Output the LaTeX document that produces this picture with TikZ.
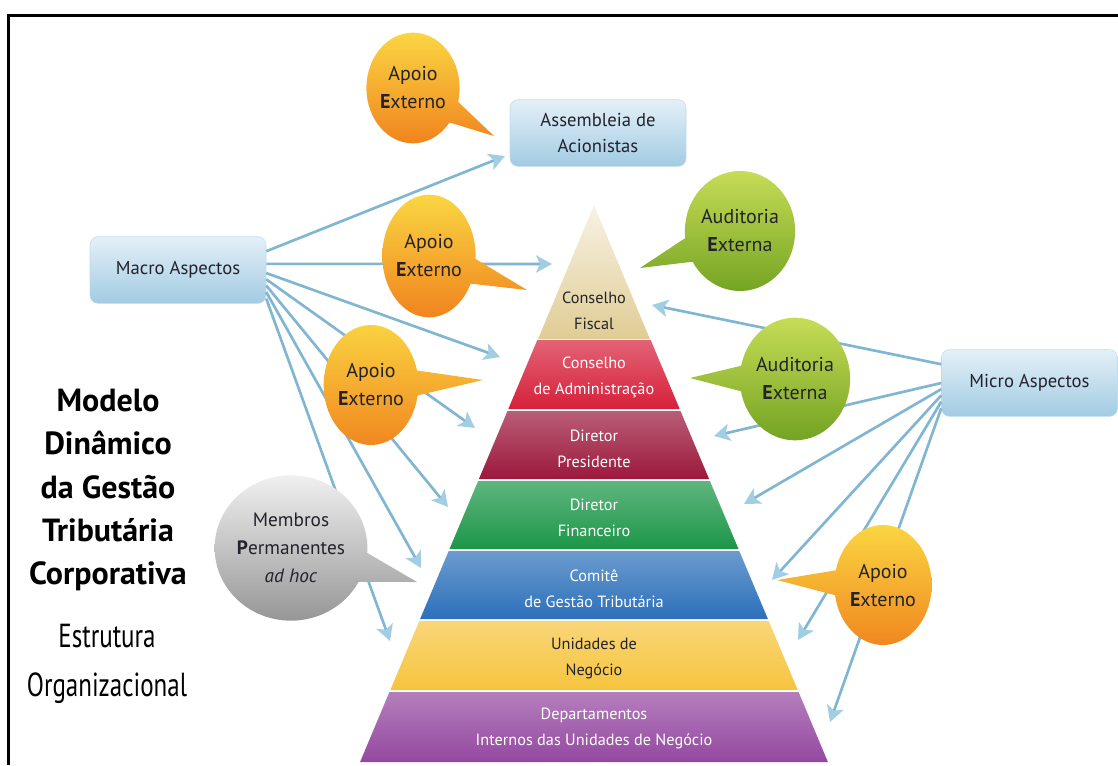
\documentclass[tikz,border=0pt]{standalone}
\usepackage{fontspec}
\setmainfont{PT Sans}
\usepackage{tikz}
\usetikzlibrary{arrows.meta,shapes.geometric,shapes.callouts}

\definecolor{lnblue}{RGB}{128,182,210}
\definecolor{tipblue}{RGB}{162,206,228}
\definecolor{boxtop}{RGB}{228,240,248}
\definecolor{boxbot}{RGB}{162,203,226}
\definecolor{boxedge}{RGB}{192,219,236}
\definecolor{ink}{RGB}{35,35,45}
\definecolor{apY}{RGB}{250,214,66}
\definecolor{apO}{RGB}{240,132,30}
\definecolor{auY}{RGB}{198,220,86}
\definecolor{auG}{RGB}{112,160,32}
\definecolor{mbL}{RGB}{240,240,240}
\definecolor{mbD}{RGB}{150,150,150}
\definecolor{cfis}{RGB}{224,204,148}
\definecolor{cadm}{RGB}{214,32,58}
\definecolor{dpre}{RGB}{156,24,60}
\definecolor{dfin}{RGB}{28,150,72}
\definecolor{cgt}{RGB}{44,112,186}
\definecolor{uneg}{RGB}{246,196,62}
\definecolor{dept}{RGB}{148,72,160}

\begin{document}
\begin{tikzpicture}[x=0.75pt,y=-0.75pt,
  box/.style={draw=boxedge,rounded corners=6pt,top color=boxtop,bottom color=boxbot,
              minimum width=132pt,minimum height=50pt,align=center,text=ink,
              font=\fontsize{14}{19}\selectfont},
  bubble/.style={ellipse callout,callout pointer arc=24,inner sep=0pt,align=center,
                 text=ink,font=\fontsize{15}{21}\selectfont},
  apoio/.style={bubble,top color=apY,bottom color=apO},
  audit/.style={bubble,top color=auY,bottom color=auG},
  membro/.style={bubble,top color=mbL,bottom color=mbD,font=\fontsize{14.5}{21}\selectfont},
  lbl/.style={align=center,font=\fontsize{12.2}{19.5}\selectfont},
  arr/.style={line width=2pt,lnblue,-{Stealth[length=12pt,width=13pt,inset=3pt,color=tipblue]}}]

  \useasboundingbox (0,0) rectangle (1118,765);
  \draw[line width=2.6pt] (8.5,765) -- (8.5,15.5) -- (1118,15.5);

  % pyramid, top to bottom
  \shade[top color=cfis!25!white,bottom color=cfis] (594,205) -- (649.9,339) -- (538.1,339) -- cycle;
  \shade[top color=cadm!70!white,middle color=cadm,bottom color=cadm] (537.3,340) -- (650.7,340) -- (679.7,409) -- (508.3,409) -- cycle;
  \shade[top color=dpre!70!white,middle color=dpre,bottom color=dpre] (507.5,411) -- (680.5,411) -- (709.1,479) -- (478.9,479) -- cycle;
  \shade[top color=dfin!70!white,middle color=dfin,bottom color=dfin] (478.1,481) -- (709.9,481) -- (738.5,549) -- (449.5,549) -- cycle;
  \shade[top color=cgt!70!white,middle color=cgt,bottom color=cgt] (448.7,551) -- (739.3,551) -- (767.9,619) -- (420.1,619) -- cycle;
  \shade[top color=uneg!70!white,middle color=uneg,bottom color=uneg] (419.3,621) -- (768.7,621) -- (797.7,690) -- (390.3,690) -- cycle;
  \shade[top color=dept!70!white,middle color=dept,bottom color=dept] (389.4,692) -- (798.6,692) -- (827.9,762) -- (360.1,762) -- cycle;

  \node[lbl,text=ink]   (conf)    at (594,311) {Conselho\\Fiscal};
  \node[lbl,text=white] (cadmin)  at (594,377) {Conselho\\de Administração};
  \node[lbl,text=white] (dirpres) at (594,449) {Diretor\\Presidente};
  \node[lbl,text=white] (dirfin)  at (594,518) {Diretor\\Financeiro};
  \node[lbl,text=white] (comite)  at (594,589) {Comitê\\de Gestão Tributária};
  \node[lbl,text=ink]   (unid)    at (594,658) {Unidades de\\Negócio};
  \node[lbl,text=white] (depto)   at (594,728) {Departamentos\\Internos das Unidades de Negócio};

  % aspect boxes
  \node[box] (assemb) at (598,133)    {Assembleia de\\Acionistas};
  \node[box] (macro)  at (178,270)    {Macro Aspectos};
  \node[box] (micro)  at (1029.5,383) {Micro Aspectos};

  % arrow ends
  \coordinate (t1) at (505,156);
  \coordinate (t2) at (552,264);
  \coordinate (t3) at (500,357);
  \coordinate (t4) at (475,428);
  \coordinate (t5) at (448,507);
  \coordinate (t6) at (421,568);
  \coordinate (t7) at (390,641);
  \coordinate (u1) at (652,305);
  \coordinate (u2) at (714,436);
  \coordinate (u3) at (744,504);
  \coordinate (u4) at (772,580);
  \coordinate (u5) at (798,640);
  \coordinate (u6) at (830,722);

  \draw[arr] (macro.12) -- (t1);
  \draw[arr] (macro.4) -- (t2);
  \draw[arr] (macro.-2) -- (t3);
  \draw[arr] (macro.-6) -- (t4);
  \draw[arr] (macro.-10) -- (t5);
  \draw[arr] (macro.-14) -- (t6);
  \draw[arr] (macro.-18) -- (t7);

  \draw[arr] (micro.168) -- (u1);
  \draw[arr] (micro.180) -- (u2);
  \draw[arr] (micro.184) -- (u3);
  \draw[arr] (micro.188) -- (u4);
  \draw[arr] (micro.192) -- (u5);
  \draw[arr] (micro.196) -- (u6);

  % speech bubbles
  \coordinate (p1) at (494,136);
  \coordinate (p2) at (527,290);
  \coordinate (p3) at (483,380);
  \coordinate (p4) at (640,268);
  \coordinate (p5) at (690,378);
  \coordinate (p6) at (417,582);
  \coordinate (p7) at (777,580);

  \node[apoio,minimum width=68pt,minimum height=83pt,callout absolute pointer={(p1)}]
    (ap1) at (413,88) {Apoio\\\textbf{E}xterno};
  \node[apoio,minimum width=70pt,minimum height=92pt,callout absolute pointer={(p2)}]
    (ap2) at (429,256) {Apoio\\\textbf{E}xterno};
  \node[apoio,minimum width=71pt,minimum height=90pt,callout absolute pointer={(p3)}]
    (ap3) at (371,385) {Apoio\\\textbf{E}xterno};
  \node[audit,minimum width=71pt,minimum height=90pt,callout absolute pointer={(p4)}]
    (au1) at (740,231) {Auditoria\\\textbf{E}xterna};
  \node[audit,minimum width=70pt,minimum height=92pt,callout absolute pointer={(p5)}]
    (au2) at (795,379) {Auditoria\\\textbf{E}xterna};
  \node[membro,minimum width=80pt,minimum height=109pt,callout absolute pointer={(p6)}]
    (memb) at (291,548) {Membros\\\textbf{P}ermanentes\\\textit{ad hoc}};
  \node[apoio,minimum width=73pt,minimum height=90pt,callout absolute pointer={(p7)}]
    (ap4) at (883,585) {Apoio\\\textbf{E}xterno};

  % title
  \node[align=center,font=\bfseries\fontsize{24}{32.6}\selectfont] (ttl) at (108,490)
    {Modelo\\Dinâmico\\da Gestão\\Tributária\\Corporativa};
  \node[align=center,font=\addfontfeatures{FakeStretch=0.75}\fontsize{25}{37}\selectfont]
    (estr) at (107,664) {Estrutura\\Organizacional};
\end{tikzpicture}
\end{document}
